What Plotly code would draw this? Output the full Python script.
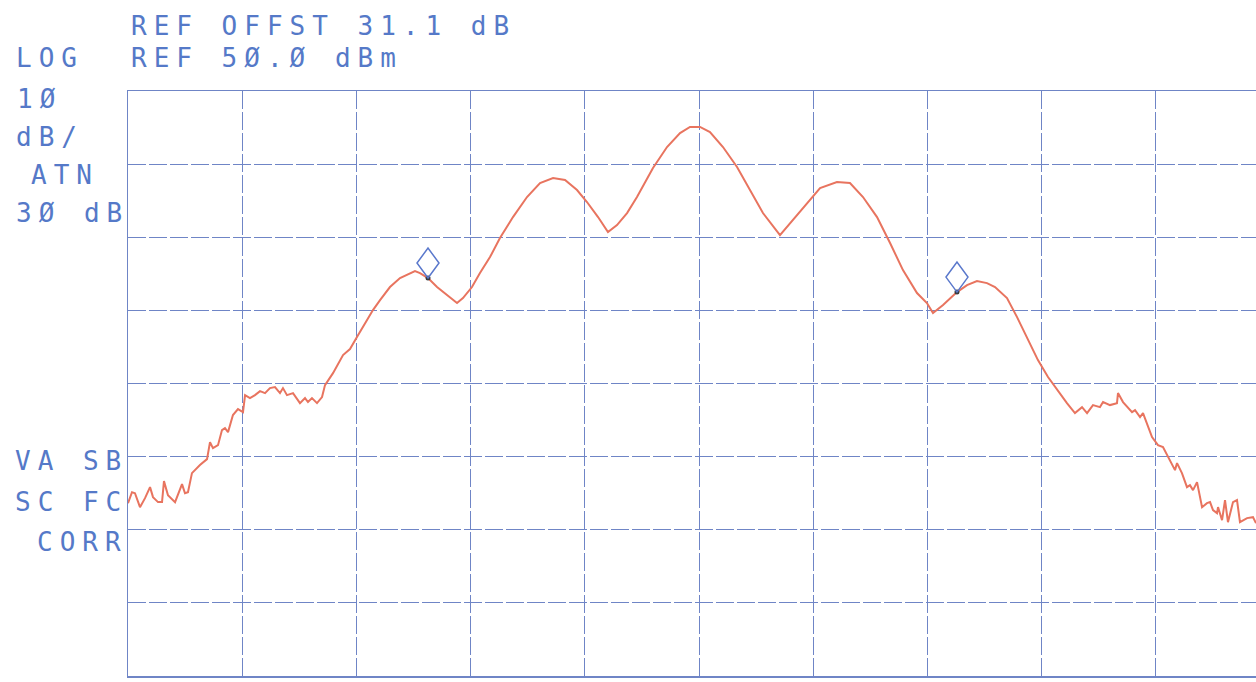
import plotly.graph_objects as go

# ---------------- data ----------------
# sweep position in graticule divisions (0 = left edge, 10 = right edge)
sweep_div = [
    0.000, 0.035, 0.061, 0.105, 0.149, 0.193, 0.219, 0.263, 0.298, 0.315,
    0.350, 0.412, 0.473, 0.499, 0.525, 0.560, 0.630, 0.692, 0.718, 0.744,
    0.788, 0.823, 0.849, 0.876, 0.919, 0.963, 1.007, 1.025, 1.068, 1.112,
    1.156, 1.200, 1.243, 1.287, 1.331, 1.357, 1.392, 1.445, 1.506, 1.550,
    1.576, 1.611, 1.655, 1.699, 1.725, 1.795, 1.883, 1.944, 2.005, 2.093,
    2.145, 2.207, 2.294, 2.382, 2.443, 2.513, 2.557, 2.627, 2.706, 2.793,
    2.881, 2.933, 3.012, 3.082, 3.170, 3.257, 3.371, 3.494, 3.608, 3.722,
    3.827, 3.932, 4.019, 4.116, 4.203, 4.282, 4.370, 4.457, 4.597, 4.720,
    4.834, 4.921, 5.009, 5.096, 5.210, 5.333, 5.447, 5.560, 5.709, 5.823,
    5.946, 6.060, 6.208, 6.322, 6.436, 6.559, 6.673, 6.786, 6.909, 6.996,
    7.049, 7.137, 7.259, 7.347, 7.434, 7.522, 7.592, 7.697, 7.785, 7.872,
    7.968, 8.056, 8.135, 8.222, 8.292, 8.354, 8.398, 8.450, 8.511, 8.538,
    8.599, 8.660, 8.669, 8.713, 8.792, 8.818, 8.862, 8.888, 8.967, 9.019,
    9.063, 9.124, 9.168, 9.186, 9.229, 9.273, 9.299, 9.326, 9.361, 9.405,
    9.448, 9.475, 9.501, 9.536, 9.545, 9.580, 9.606, 9.632, 9.676, 9.711,
    9.737, 9.799, 9.851, 9.877,
]
level_dbm = [
    -6.36, -4.86, -5.00, -6.91, -5.68, -4.17, -5.54, -6.22, -6.22, -3.35,
    -5.27, -6.22, -3.76, -5.00, -4.86, -2.26, -1.16, -0.34, 1.98, 1.16,
    1.57, 3.63, 3.90, 3.35, 5.68, 6.50, 6.09, 8.41, 8.00, 8.41,
    8.96, 8.69, 9.37, 9.51, 8.69, 9.37, 8.41, 8.69, 7.32, 8.00,
    7.46, 8.00, 7.32, 8.14, 9.78, 11.42, 13.89, 14.71, 16.35, 18.67,
    20.04, 21.41, 23.19, 24.42, 24.83, 25.38, 25.10, 24.42, 23.19, 22.09,
    21.00, 21.68, 23.19, 25.10, 27.29, 29.89, 32.76, 35.50, 37.41, 38.10,
    37.83, 36.46, 34.82, 32.76, 30.71, 31.67, 33.31, 35.50, 39.47, 42.34,
    44.25, 45.08, 45.08, 44.39, 42.34, 39.60, 36.46, 33.31, 30.30, 32.35,
    34.68, 36.73, 37.55, 37.41, 35.50, 32.76, 29.21, 25.51, 22.37, 21.00,
    19.63, 20.73, 22.50, 23.46, 24.01, 23.73, 23.19, 21.68, 19.08, 16.35,
    13.20, 10.88, 9.10, 7.32, 5.95, 6.77, 5.95, 7.05, 6.77, 7.46,
    7.05, 7.32, 8.69, 7.46, 6.09, 6.36, 5.40, 5.95, 2.67, 1.57,
    1.30, -0.48, -1.85, -0.89, -2.26, -4.17, -3.90, -4.58, -3.49, -6.91,
    -6.36, -6.22, -7.32, -7.73, -6.91, -8.69, -5.95, -8.96, -6.22, -5.95,
    -8.96, -8.41, -8.28, -9.10,
]
marker_div = [2.627, 7.259]
marker_dbm = [24.42, 22.50]

ref_level_dbm = 50.0
db_per_div = 10
n_ydiv = 8

header_lines = ["REF OFFST 31.1 dB", "REF 5Ø.Ø dBm"]
left_labels = ["LOG", "1Ø", "dB/", "ATN", "3Ø dB", "VA SB", "SC FC", "CORR"]

# ---------------- styling ----------------
W, H = 1256, 682
PL, PT, PB = 128, 91, 676          # plot left / top / bottom (px)
DIV_PX = 114.2                     # horizontal division width (px)
plot_w = W - PL
x_right = plot_w / DIV_PX

GRID = "#6f85c6"
TRACE = "#e8745f"
TEXT = "#5579c8"
FONT = "DejaVu Sans Mono"
FSIZE = 26


def px_x(px):
    return (px - PL) / plot_w


def px_y(py):
    return (PB - py) / (PB - PT)


fig = go.Figure()
fig.add_trace(go.Scatter(
    x=sweep_div, y=level_dbm, mode="lines",
    line=dict(color=TRACE, width=2), hoverinfo="skip",
))
fig.add_trace(go.Scatter(
    x=marker_div, y=marker_dbm, mode="markers",
    marker=dict(size=5, color="#3a3a3a"), hoverinfo="skip",
))

for mx, my in zip(marker_div, marker_dbm):
    fig.add_shape(
        type="path", xref="x", yref="y",
        xsizemode="pixel", ysizemode="pixel",
        xanchor=mx, yanchor=my,
        path="M0,0 L11,15 L0,30 L-11,15 Z",
        line=dict(color="#5a78cc", width=1.5),
        fillcolor="rgba(0,0,0,0)",
    )

# text positions (left px, vertical cap-centre px)
header_pos = [(129, 26), (129, 58)]
left_pos = [(14, 58), (15, 99), (14, 137), (29, 175), (14, 213),
            (13, 461), (13, 502), (35, 542)]

annotations = []
for txt, (lx, cy) in zip(header_lines + left_labels, header_pos + left_pos):
    annotations.append(dict(
        text=txt, xref="paper", yref="paper",
        x=px_x(lx), y=px_y(cy), xanchor="left", yanchor="middle",
        align="left", showarrow=False,
        font=dict(family=FONT, size=FSIZE, color=TEXT),
    ))

fig.update_layout(
    width=W, height=H,
    margin=dict(l=PL, r=0, t=PT, b=H - PB, pad=0),
    paper_bgcolor="white", plot_bgcolor="white",
    showlegend=False,
    annotations=annotations,
    xaxis=dict(
        range=[0, x_right], tick0=0, dtick=1,
        showgrid=True, gridcolor=GRID, gridwidth=1, griddash="18px,3px",
        showticklabels=False, ticks="", zeroline=False,
        showline=True, linecolor=GRID, linewidth=1.5, mirror=True,
    ),
    yaxis=dict(
        range=[ref_level_dbm - n_ydiv * db_per_div, ref_level_dbm],
        tick0=ref_level_dbm, dtick=db_per_div,
        showgrid=True, gridcolor=GRID, gridwidth=1, griddash="18px,3px",
        showticklabels=False, ticks="", zeroline=False,
        showline=True, linecolor=GRID, linewidth=1.5, mirror=False,
    ),
)

post = """
document.body.style.margin = '0';
var gd = document.getElementById('{plot_id}');
gd.querySelectorAll('text.annotation-text').forEach(function(t){
  t.style.letterSpacing = '7px';
});
"""
fig.write_html("out.html", post_script=post,
               config={"displayModeBar": False, "staticPlot": True})
